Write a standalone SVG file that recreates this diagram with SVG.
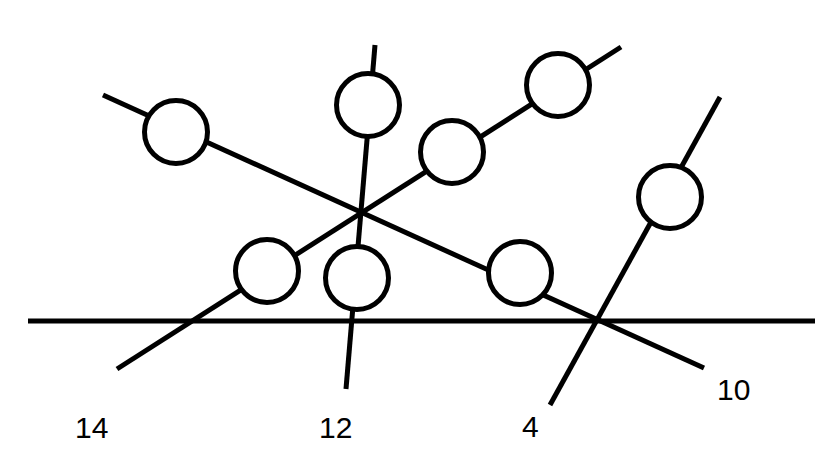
<svg xmlns="http://www.w3.org/2000/svg" width="815" height="471" viewBox="0 0 815 471">
<style>
.ln{stroke:#000;stroke-width:5;fill:none;stroke-linecap:butt}
.nd{stroke:#000;stroke-width:5;fill:#fff}
.lb{font-family:"Liberation Sans",Arial,sans-serif;font-size:30px;fill:#000}
</style>
<rect width="815" height="471" fill="#fff"/>
<g id="connectors">
<line class="ln" x1="28" y1="321" x2="815" y2="321"/>
<line class="ln" x1="103" y1="95" x2="704" y2="368"/>
<line class="ln" x1="117" y1="369" x2="621" y2="47"/>
<line class="ln" x1="375" y1="45" x2="346" y2="389"/>
<line class="ln" x1="720" y1="97" x2="550" y2="405"/>
</g>
<g id="n1"><circle class="nd" cx="176" cy="132" r="31.5"/></g>
<g id="n2"><circle class="nd" cx="368" cy="105" r="31.5"/></g>
<g id="n3"><circle class="nd" cx="452" cy="152" r="31.5"/></g>
<g id="n4"><circle class="nd" cx="558" cy="85" r="31.5"/></g>
<g id="n5"><circle class="nd" cx="670" cy="197" r="31.5"/></g>
<g id="n6"><circle class="nd" cx="267" cy="271" r="31.5"/></g>
<g id="n7"><circle class="nd" cx="357" cy="278" r="31.5"/></g>
<g id="n8"><circle class="nd" cx="520" cy="273" r="31.5"/></g>
<g id="labels">
<text class="lb" x="75" y="438">14</text>
<text class="lb" x="319" y="438">12</text>
<text class="lb" x="522" y="437">4</text>
<text class="lb" x="717" y="400">10</text>
</g>
</svg>
